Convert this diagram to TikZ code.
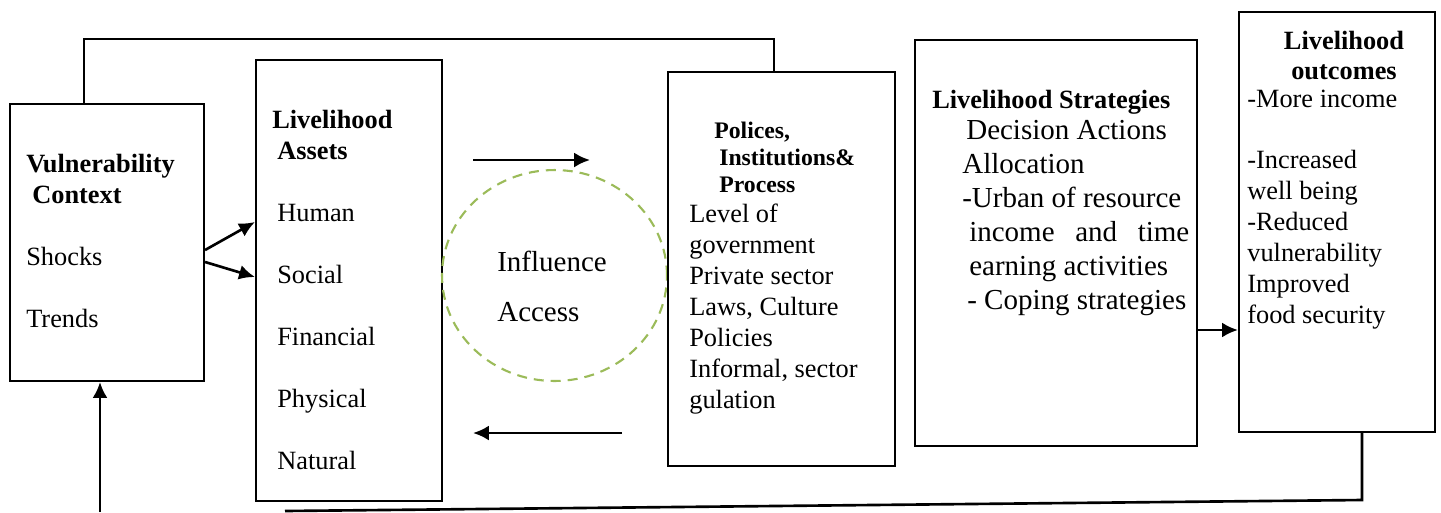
\documentclass[tikz,border=0pt]{standalone}
\usepackage{fontspec}
\setmainfont{Liberation Serif}
\usetikzlibrary{arrows.meta}
\usetikzlibrary{shapes.geometric}
\definecolor{olivegreen}{RGB}{155,187,89}

\begin{document}
\begin{tikzpicture}[x=0.02cm, y=-0.02cm, >={Latex[length=9pt,width=8.5pt]}, line width=1.5pt]
    \tikzstyle{box}=[draw, rectangle, inner sep=0pt, line width=1.25pt]
    \tikzstyle{txt}=[anchor=north west, align=left, inner sep=0pt, font=\fontsize{15}{17.6}\selectfont]
    \useasboundingbox (0,0) rectangle (1441,512);

    % the five boxes and the circle between them
    \node[box, minimum width=3.88cm, minimum height=5.54cm] (vul) at (107,242.5) {};
    \node[box, minimum width=3.72cm, minimum height=8.82cm] (ast) at (349,280.5) {};
    \node[ellipse, draw=olivegreen, line width=1.2pt, dash pattern=on 0.2cm off 0.14cm, minimum width=4.5cm, minimum height=4.22cm] (inf) at (554.5,275.5) {};
    \node[box, minimum width=4.54cm, minimum height=7.88cm] (pol) at (781.5,269) {};
    \node[box, minimum width=5.64cm, minimum height=8.12cm] (str) at (1056,243) {};
    \node[box, minimum width=3.92cm, minimum height=8.4cm] (out) at (1337,222) {};

    % texts
    \node[txt] (vul-t) at (25,153) {\textbf{Vulnerability}\\ \hspace*{0.12cm}\textbf{Context}\\[0.62cm] Shocks\\[0.62cm] Trends};
    \node[txt] (ast-t) at (271,109) {\textbf{Livelihood}\\ \hspace*{0.1cm}\textbf{Assets}\\[0.62cm] \hspace*{0.1cm}Human\\[0.62cm] \hspace*{0.1cm}Social\\[0.62cm] \hspace*{0.1cm}Financial\\[0.62cm] \hspace*{0.1cm}Physical\\[0.62cm] \hspace*{0.1cm}Natural};
    \node[txt, font=\fontsize{16.5}{28.35}\selectfont] (inf-t) at (496,250) {Influence\\ Access};
    \node[txt, font=\fontsize{13.5}{15.3}\selectfont\bfseries] (pol-h) at (713,121) {Polices,\\ \hspace*{0.1cm}Institutions\&\\ \hspace*{0.1cm}Process};
    \node[txt] (pol-t) at (688,203) {Level of\\ government\\ Private sector\\ Laws, Culture\\ Policies\\ Informal, sector\\ gulation};
    \node[txt, font=\fontsize{15}{17.6}\selectfont\bfseries] (str-h) at (931,89) {Livelihood Strategies};
    \node[txt, font=\fontsize{16.5}{19.3}\selectfont] (str-t) at (961,119) {\hspace*{0.08cm}Decision Actions\\ Allocation\\ -Urban of resource\\ \hspace*{0.14cm}\makebox[4.4cm][s]{income and time}\\ \hspace*{0.14cm}earning activities\\ \hspace*{0.1cm}- Coping strategies};
    \node[txt, anchor=north, align=center, font=\fontsize{15}{17}\selectfont\bfseries] (out-h) at (1344,30) {Livelihood\\ outcomes};
    \node[txt] (out-t) at (1246,89) {-More income\\[0.6cm] -Increased\\ well being\\ -Reduced\\ vulnerability\\ Improved\\ food security};

    % free ends of the arrows
    \coordinate (ia1) at (473,160);
    \coordinate (ia2) at (590,160);
    \coordinate (ac1) at (622,433);
    \coordinate (ac2) at (473,433);
    \coordinate (so) at ([yshift=-1.74cm]str.east);
    \coordinate (fb1) at (1362,500);
    \coordinate (fb2) at (285,511);
    \coordinate (fb3) at (100,512);

    % connectors
    \draw[->] ([yshift=-0.15cm]vul.east) -- ([yshift=1.17cm]ast.west);
    \draw[->] ([yshift=-0.39cm]vul.east) -- ([yshift=0.07cm]ast.west);
    \draw ([xshift=-0.46cm]vul.north) |- ([xshift=-0.15cm,yshift=0.64cm]pol.north) -- ([xshift=-0.15cm]pol.north);
    \draw[->] (ia1) -- (ia2);
    \draw[->] (ac1) -- (ac2);
    \draw[->] (so) -- (so -| out.west);
    \draw ([xshift=0.5cm]out.south) -- (fb1) -- (fb2);
    \draw[->] (fb3) -- (fb3 |- vul.south);
\end{tikzpicture}
\end{document}
